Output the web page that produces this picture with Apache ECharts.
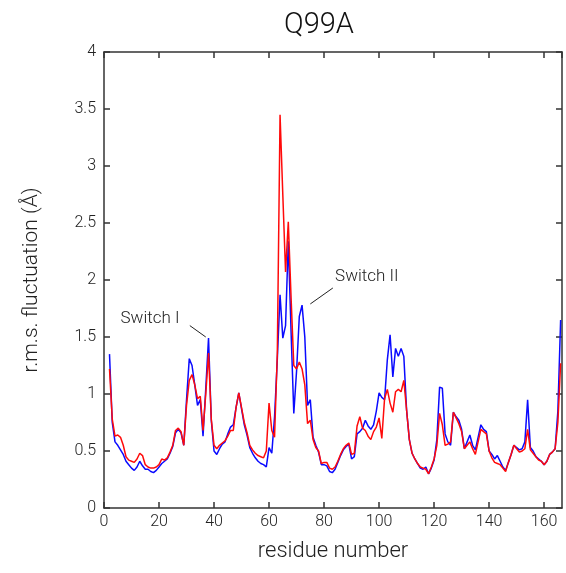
<!DOCTYPE html>
<html>
<head>
<meta charset="utf-8">
<script src="https://cdn.jsdelivr.net/npm/echarts@6/dist/echarts.min.js"></script>
<style>
  html, body { margin: 0; padding: 0; background: #fff; }
  #chart { width: 566px; height: 573px; }
</style>
</head>
<body>
<div id="chart"></div>
<script>
// residue numbering of the first point
const firstResidue = 2;

// rmsf per residue (residues 2..166)
const blueRmsf = [
  1.35, 0.75, 0.58, 0.55, 0.51, 0.47, 0.41, 0.38, 0.35, 0.33,
  0.36, 0.41, 0.37, 0.34, 0.34, 0.32, 0.31, 0.33, 0.36, 0.39,
  0.41, 0.43, 0.48, 0.54, 0.66, 0.69, 0.66, 0.55, 0.95, 1.31,
  1.25, 1.08, 0.90, 0.95, 0.63, 1.05, 1.49, 0.77, 0.50, 0.47,
  0.52, 0.56, 0.58, 0.65, 0.71, 0.73, 0.88, 1.01, 0.87, 0.73,
  0.64, 0.53, 0.48, 0.44, 0.41, 0.39, 0.38, 0.36, 0.53, 0.48,
  0.80, 1.30, 1.87, 1.49, 1.60, 2.34, 1.55, 0.83, 1.20, 1.68,
  1.78, 1.50, 0.90, 0.95, 0.62, 0.55, 0.49, 0.38, 0.38, 0.37,
  0.32, 0.31, 0.34, 0.40, 0.46, 0.51, 0.54, 0.56, 0.43, 0.45,
  0.65, 0.67, 0.70, 0.77, 0.72, 0.69, 0.73, 0.85, 1.01, 0.97,
  0.95, 1.30, 1.52, 1.15, 1.40, 1.33, 1.40, 1.33, 0.86, 0.60,
  0.48, 0.43, 0.39, 0.35, 0.34, 0.36, 0.30, 0.35, 0.42, 0.60,
  1.06, 1.05, 0.65, 0.58, 0.55, 0.84, 0.80, 0.77, 0.69, 0.52,
  0.58, 0.64, 0.55, 0.51, 0.62, 0.73, 0.69, 0.67, 0.50, 0.47,
  0.43, 0.46, 0.41, 0.36, 0.33, 0.40, 0.47, 0.55, 0.53, 0.51,
  0.52, 0.58, 0.95, 0.53, 0.50, 0.45, 0.43, 0.41, 0.38, 0.41,
  0.47, 0.49, 0.52, 0.85, 1.65
];

const redRmsf = [
  1.22, 0.78, 0.63, 0.64, 0.62, 0.55, 0.45, 0.42, 0.41, 0.40,
  0.43, 0.48, 0.46, 0.38, 0.36, 0.35, 0.35, 0.36, 0.38, 0.43,
  0.42, 0.44, 0.49, 0.55, 0.68, 0.70, 0.67, 0.55, 0.90, 1.12,
  1.17, 1.08, 0.96, 0.98, 0.68, 1.00, 1.36, 0.78, 0.55, 0.52,
  0.55, 0.57, 0.59, 0.63, 0.68, 0.68, 0.88, 1.01, 0.88, 0.75,
  0.66, 0.55, 0.51, 0.48, 0.46, 0.45, 0.44, 0.50, 0.92, 0.68,
  0.62, 1.35, 3.45, 2.75, 2.07, 2.51, 1.85, 1.25, 1.22, 1.28,
  1.22, 1.08, 0.74, 0.77, 0.60, 0.53, 0.50, 0.39, 0.40, 0.40,
  0.35, 0.34, 0.36, 0.41, 0.47, 0.52, 0.55, 0.57, 0.47, 0.48,
  0.72, 0.80, 0.70, 0.68, 0.63, 0.60, 0.67, 0.71, 0.79, 0.61,
  0.96, 1.04, 0.92, 0.84, 1.02, 1.04, 1.02, 1.12, 0.86, 0.60,
  0.48, 0.43, 0.39, 0.36, 0.35, 0.34, 0.30, 0.36, 0.43, 0.55,
  0.83, 0.73, 0.55, 0.56, 0.58, 0.84, 0.79, 0.74, 0.67, 0.52,
  0.55, 0.58, 0.52, 0.47, 0.58, 0.69, 0.67, 0.65, 0.50, 0.44,
  0.40, 0.39, 0.38, 0.35, 0.32, 0.40, 0.47, 0.55, 0.52, 0.49,
  0.50, 0.52, 0.69, 0.51, 0.48, 0.45, 0.42, 0.41, 0.38, 0.41,
  0.47, 0.49, 0.52, 0.75, 1.27
];

const xTicks = [0, 20, 40, 60, 80, 100, 120, 140, 160];
const yTicks = [0, 0.5, 1, 1.5, 2, 2.5, 3, 3.5, 4];

const residues = blueRmsf.map((_, i) => firstResidue + i);

const chart = echarts.init(document.getElementById("chart"));

const font = "Roboto, 'Liberation Sans', sans-serif";
const axisColor = "#333";

const boxAxis = {
  axisLine: { show: true, onZero: false, lineStyle: { color: axisColor, width: 1.5 } },
  axisTick: { show: true, inside: true, length: 6, lineStyle: { color: axisColor, width: 1.5 } },
  splitLine: { show: false },
};

const option = {
  animation: false,
  backgroundColor: "#fff",
  title: {
    text: "Q99A",
    left: 279,
    top: 6,
    textStyle: { fontFamily: font, fontSize: 29, fontWeight: 300, color: "#111" },
  },
  grid: { left: 104, right: 4, top: 52, bottom: 65 },
  xAxis: [
    {
      type: "value",
      min: 0,
      max: 166.5,
      interval: 20,
      name: "residue number",
      nameLocation: "middle",
      nameGap: 32,
      nameTextStyle: { fontFamily: font, fontSize: 22, fontWeight: 300, color: "#222" },
      ...boxAxis,
      axisLabel: {
        fontFamily: font, fontSize: 16, fontWeight: 300, color: "#222", margin: 6,
        showMaxLabel: false,
        formatter: (v) => (xTicks.includes(v) ? String(v) : ""),
      },
    },
    {
      type: "value", position: "top", min: 0, max: 166.5, interval: 20,
      ...boxAxis, axisLabel: { show: false },
    },
  ],
  yAxis: [
    {
      type: "value",
      min: 0,
      max: 4,
      interval: 0.5,
      name: "r.m.s. fluctuation (Å)",
      nameLocation: "middle",
      nameGap: 62,
      nameTextStyle: { fontFamily: font, fontSize: 21, fontWeight: 300, color: "#222" },
      ...boxAxis,
      axisLabel: {
        fontFamily: font, fontSize: 16, fontWeight: 300, color: "#222", margin: 8,
        formatter: (v) => (yTicks.includes(v) ? String(v) : ""),
      },
    },
    {
      type: "value", position: "right", min: 0, max: 4, interval: 0.5,
      ...boxAxis, axisLabel: { show: false },
    },
  ],
  series: [
    {
      name: "blue",
      type: "line",
      data: residues.map((r, i) => [r, blueRmsf[i]]),
      symbol: "none",
      lineStyle: { color: "#0a0aff", width: 1.5 },
      z: 2,
    },
    {
      name: "red",
      type: "line",
      data: residues.map((r, i) => [r, redRmsf[i]]),
      symbol: "none",
      lineStyle: { color: "#ff0a0a", width: 1.5 },
      z: 3,
    },
  ],
};

chart.setOption(option);

// annotations anchored in data space
const px = (x, y) => chart.convertToPixel({ xAxisIndex: 0, yAxisIndex: 0 }, [x, y]);
const s1a = px(31.2, 1.60), s1b = px(37.0, 1.50), s1t = px(6, 1.66);
const s2a = px(75.0, 1.79), s2b = px(83.2, 1.93), s2t = px(84, 2.03);

chart.setOption({
  graphic: [
    { type: "line", shape: { x1: s1a[0], y1: s1a[1], x2: s1b[0], y2: s1b[1] },
      style: { stroke: "#222", lineWidth: 1 } },
    { type: "text", x: s1t[0], y: s1t[1],
      style: { text: "Switch I", font: "300 17px " + font, fill: "#222", textVerticalAlign: "middle" } },
    { type: "line", shape: { x1: s2a[0], y1: s2a[1], x2: s2b[0], y2: s2b[1] },
      style: { stroke: "#222", lineWidth: 1 } },
    { type: "text", x: s2t[0], y: s2t[1],
      style: { text: "Switch II", font: "300 17px " + font, fill: "#222", textVerticalAlign: "middle" } },
  ],
});
</script>
</body>
</html>
